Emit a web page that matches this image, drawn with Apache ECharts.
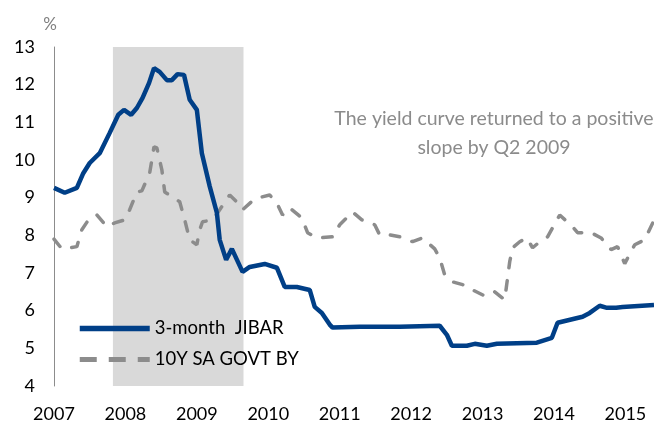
<!DOCTYPE html>
<html>
<head>
<meta charset="utf-8">
<script src="https://cdn.jsdelivr.net/npm/echarts@6/dist/echarts.min.js"></script>
<style>
  html, body { margin: 0; padding: 0; background: #fff; }
  #chart { width: 654px; height: 423px; }
</style>
</head>
<body>
<div id="chart"></div>
<script>
// years as decimal (2008.5 = mid 2008)
var yearTicks = [2007, 2008, 2009, 2010, 2011, 2012, 2013, 2014, 2015];
var shadeStart = 2007.825;
var shadeEnd = 2009.653;

var jibarDates = [2007.00, 2007.15, 2007.32, 2007.41, 2007.50, 2007.64, 2007.78, 2007.90, 2007.98, 2008.08,
  2008.16, 2008.24, 2008.33, 2008.40, 2008.48, 2008.58, 2008.65, 2008.73, 2008.82, 2008.90,
  2009.00, 2009.07, 2009.18, 2009.28, 2009.32, 2009.41, 2009.49, 2009.64, 2009.74, 2009.95,
  2010.12, 2010.23, 2010.40, 2010.58, 2010.65, 2010.75, 2010.86, 2010.90, 2011.28, 2011.84,
  2012.40, 2012.50, 2012.57, 2012.78, 2012.89, 2013.06, 2013.20, 2013.76, 2013.97, 2014.05,
  2014.40, 2014.50, 2014.64, 2014.73, 2014.87, 2014.96, 2015.40];
var jibarValues = [9.26, 9.13, 9.26, 9.65, 9.92, 10.18, 10.72, 11.2, 11.33, 11.2,
  11.38, 11.65, 12.04, 12.44, 12.34, 12.12, 12.12, 12.28, 12.26, 11.6,
  11.33, 10.18, 9.3, 8.6, 7.88, 7.35, 7.64, 7.03, 7.16, 7.24,
  7.14, 6.63, 6.63, 6.55, 6.1, 5.94, 5.63, 5.55, 5.57, 5.57,
  5.6, 5.36, 5.07, 5.07, 5.12, 5.07, 5.12, 5.15, 5.28, 5.68,
  5.84, 5.94, 6.13, 6.08, 6.08, 6.1, 6.15];

var bondDates = [2007.00, 2007.11, 2007.32, 2007.39, 2007.50, 2007.60, 2007.74, 2007.85, 2007.99, 2008.06,
  2008.16, 2008.23, 2008.34, 2008.40, 2008.44, 2008.51, 2008.55, 2008.66, 2008.76, 2008.83,
  2008.90, 2009.00, 2009.04, 2009.08, 2009.22, 2009.32, 2009.46, 2009.60, 2009.64, 2009.81,
  2010.02, 2010.12, 2010.20, 2010.30, 2010.47, 2010.55, 2010.68, 2010.90, 2011.00, 2011.18,
  2011.31, 2011.49, 2011.56, 2011.70, 2011.84, 2012.02, 2012.16, 2012.33, 2012.40, 2012.47,
  2012.57, 2012.72, 2012.86, 2013.03, 2013.17, 2013.31, 2013.38, 2013.42, 2013.52, 2013.62,
  2013.70, 2013.80, 2013.91, 2014.08, 2014.26, 2014.33, 2014.52, 2014.66, 2014.80, 2014.89,
  2014.99, 2015.13, 2015.27, 2015.40];
var bondValues = [7.9, 7.64, 7.7, 8.15, 8.46, 8.54, 8.23, 8.33, 8.41, 8.68,
  9.15, 9.18, 9.66, 10.35, 10.32, 9.74, 9.15, 9.02, 8.89, 8.41,
  7.88, 7.75, 8.15, 8.36, 8.41, 8.68, 9.07, 8.81, 8.68, 8.97,
  9.07, 8.86, 8.54, 8.73, 8.46, 8.07, 7.93, 7.96, 8.28, 8.62,
  8.41, 8.28, 8.01, 8.01, 7.96, 7.83, 7.93, 7.64, 7.4, 6.95,
  6.77, 6.69, 6.55, 6.39, 6.5, 6.29, 7.3, 7.67, 7.83, 7.93,
  7.67, 7.83, 7.96, 8.54, 8.23, 8.07, 8.07, 7.93, 7.62, 7.7,
  7.25, 7.75, 7.88, 8.4];

function zip(xs, ys) {
  return xs.map(function (x, i) { return [x, ys[i]]; });
}

var font = 'Lato, "Liberation Sans", sans-serif';
var chart = echarts.init(document.getElementById('chart'));

chart.setOption({
  animation: false,
  textStyle: { fontFamily: font },
  grid: { left: 54, right: 0, top: 47, bottom: 37 },
  legend: {
    orient: 'vertical',
    left: 72,
    top: 314,
    itemWidth: 70,
    itemHeight: 14,
    itemGap: 12,
    data: [
      { name: '3-month  JIBAR', lineStyle: { width: 5.5 } },
      { name: '10Y SA GOVT BY', lineStyle: { width: 5, type: [17, 12], cap: 'butt' } }
    ],
    itemStyle: { color: 'transparent', borderWidth: 0 },
    textStyle: { fontSize: 18.5, color: '#000', fontFamily: font }
  },
  xAxis: {
    type: 'value',
    min: 2007,
    max: 2015.4,
    interval: 1,
    axisLine: { show: false },
    axisTick: { show: false },
    splitLine: { show: false },
    axisLabel: {
      fontSize: 18, color: '#000', margin: 19, showMaxLabel: false,
      formatter: function (v) { return yearTicks.indexOf(v) >= 0 ? String(v) : ''; }
    }
  },
  yAxis: {
    type: 'value',
    min: 4,
    max: 13,
    interval: 1,
    name: '%',
    nameGap: 14,
    nameTextStyle: { fontSize: 17, color: '#808080', align: 'center', padding: [0, 8, 0, 0] },
    axisLine: { show: true, lineStyle: { color: '#8c8c8c', width: 1 } },
    axisTick: { show: false },
    splitLine: { show: false },
    axisLabel: { fontSize: 18, color: '#000', margin: 19 }
  },
  graphic: [{
    type: 'text',
    x: 494,
    y: 104,
    z: 10,
    style: {
      text: 'The yield curve returned to a positive\nslope by Q2 2009',
      fill: '#8b8b8b',
      font: '19.5px ' + font,
      align: 'center',
      lineHeight: 29
    }
  }],
  series: [{
    name: '10Y SA GOVT BY',
    type: 'line',
    data: zip(bondDates, bondValues),
    symbol: 'none',
    z: 2,
    lineStyle: { color: '#8c8c8c', width: 3.5, type: [9.5, 13], cap: 'round' },
    itemStyle: { color: '#8c8c8c' },
    markArea: {
      silent: true,
      itemStyle: { color: '#d9d9d9' },
      data: [[{ xAxis: shadeStart }, { xAxis: shadeEnd }]]
    }
  }, {
    name: '3-month  JIBAR',
    type: 'line',
    data: zip(jibarDates, jibarValues),
    symbol: 'none',
    z: 3,
    lineStyle: { color: '#003f87', width: 4.5 },
    itemStyle: { color: '#003f87' }
  }]
});
</script>
</body>
</html>
